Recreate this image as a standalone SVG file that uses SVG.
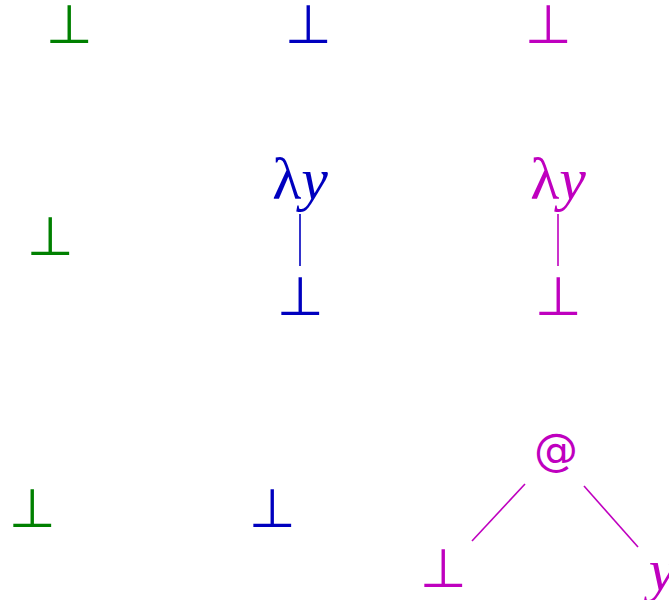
<svg xmlns="http://www.w3.org/2000/svg" width="669" height="600" viewBox="0 0 669 600">
<style>
.t{font-family:"DejaVu Sans",sans-serif;font-size:54px;text-anchor:middle}
.m{font-family:"Liberation Serif","DejaVu Serif",serif;font-size:60px;text-anchor:middle}
.a{font-family:"DejaVu Sans",sans-serif;font-size:44px;text-anchor:middle}
.g{fill:#008000}.b{fill:#0000bf}.p{fill:#bf00bf}
.c{fill:none;stroke-width:1.6}
</style>
<rect width="669" height="600" fill="#fff"/>
<g id="n1"><text class="t g" x="69" y="43">⊥</text></g>
<g id="n2"><text class="t b" x="308" y="43">⊥</text></g>
<g id="n3"><text class="t p" x="548" y="43">⊥</text></g>
<g id="n4"><text class="t g" x="50" y="255">⊥</text></g>
<g id="n5"><text class="m b" x="300" y="199">λ<tspan font-style="italic">y</tspan></text></g>
<g id="n6"><text class="t b" x="300" y="315">⊥</text></g>
<g id="n7"><text class="m p" x="558" y="199">λ<tspan font-style="italic">y</tspan></text></g>
<g id="n8"><text class="t p" x="558" y="315">⊥</text></g>
<g id="n9"><text class="a p" x="556" y="465">@</text></g>
<g id="n10"><text class="t p" x="443" y="587">⊥</text></g>
<g id="n11"><text class="m p" font-style="italic" x="662" y="590">y</text></g>
<g id="n12"><text class="t g" x="32" y="527">⊥</text></g>
<g id="n13"><text class="t b" x="272" y="527">⊥</text></g>
<g id="edges">
<line class="c" stroke="#0000bf" x1="300" y1="214" x2="300" y2="266"/>
<line class="c" stroke="#bf00bf" x1="558" y1="214" x2="558" y2="266"/>
<line class="c" stroke="#bf00bf" x1="525" y1="484" x2="472" y2="541"/>
<line class="c" stroke="#bf00bf" x1="584" y1="486" x2="638" y2="547"/>
</g>
</svg>
